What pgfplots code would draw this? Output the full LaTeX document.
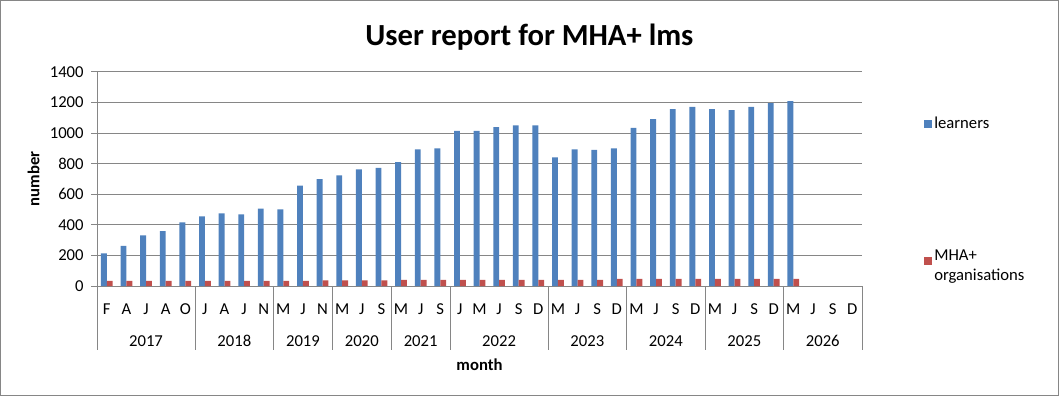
\documentclass[border=0pt]{standalone}
\usepackage{pgfplots}
\pgfplotsset{compat=1.18}
\usepackage{fontspec}
\setmainfont{Carlito}
\definecolor{barblue}{HTML}{4F81BD}
\definecolor{barred}{HTML}{C0504D}
\definecolor{gridgray}{HTML}{868686}
\newcommand{\sz}{\fontsize{12.5}{15}\selectfont}
\begin{document}
\begin{tikzpicture}
\draw[gridgray, line width=0.75pt] (0.375pt,0.375pt) rectangle (793.875pt,296.625pt);
\node[font=\fontsize{23}{27}\selectfont\bfseries, anchor=center] at (397.1pt,269.5pt) {User report for MHA+ lms};
\begin{axis}[
  at={(72.75pt,82.5pt)}, anchor=south west,
  scale only axis, width=573.75pt, height=160.5pt,
  xmin=-0.5, xmax=38.5, ymin=0, ymax=1400,
  clip=false,
  ybar=0pt, bar width=4.4pt,
  axis x line*=bottom, axis y line*=left,
  axis line style={gridgray, line width=0.75pt},
  ytick={0,200,...,1400},
  ymajorgrids, grid style={gridgray, line width=0.75pt},
  ytick style={gridgray, line width=0.75pt},
  tick align=outside, major tick length=4.5pt,
  /pgf/number format/assume math mode=true,
  /pgf/number format/1000 sep={},
  yticklabel style={font=\sz, xshift=-2pt},
  xtick={0,...,38},
  xticklabels={F,A,J,A,O, J,A,J,N, M,J,N, M,J,S, M,J,S, J,M,J,S,D, M,J,S,D, M,J,S,D, M,J,S,D, M,J,S,D},
  x tick style={draw=none},
  xticklabel style={font=\sz, anchor=center, yshift=-13pt},
  xlabel={\bfseries month},
  xlabel style={font=\sz, at={(axis description cs:0.5,0)}, anchor=center, yshift=-59pt},
  ylabel={\bfseries number},
  ylabel style={font=\sz, at={(axis description cs:-0.083,0.5)}, anchor=center},
  legend style={at={(axis description cs:1.075,0.816)}, anchor=north west, draw=none, fill=none,
    font=\sz, row sep=93pt, cells={anchor=west}},
  legend image code/.code={\fill[#1] (0pt,-3pt) rectangle (6pt,3pt);},
]
\addplot[fill=barblue, draw=none] coordinates {
(0,214) (1,262) (2,332) (3,359) (4,416)
(5,455) (6,475) (7,468) (8,507)
(9,501) (10,656) (11,700)
(12,724) (13,763) (14,772)
(15,811) (16,894) (17,901)
(18,1015) (19,1015) (20,1039) (21,1050) (22,1050)
(23,842) (24,894) (25,890) (26,901)
(27,1034) (28,1091) (29,1157) (30,1172)
(31,1157) (32,1150) (33,1172) (34,1196)
(35,1209)
};
\addplot[fill=barred, draw=none] coordinates {
(0,33) (1,33) (2,33) (3,33) (4,33)
(5,33) (6,33) (7,33) (8,33)
(9,33) (10,33) (11,37)
(12,37) (13,37) (14,37)
(15,40) (16,40) (17,40)
(18,40) (19,40) (20,40) (21,40) (22,40)
(23,40) (24,40) (25,40) (26,46)
(27,46) (28,46) (29,46) (30,46)
(31,46) (32,46) (33,46) (34,46)
(35,46)
};
\legend{learners, {\smash{\parbox[t]{3cm}{MHA+\\organisations}}}}
\draw[gridgray, line width=0.75pt] (axis cs:-0.5,0) -- ++(0pt,-48pt);
\draw[gridgray, line width=0.75pt] (axis cs:4.5,0) -- ++(0pt,-48pt);
\draw[gridgray, line width=0.75pt] (axis cs:8.5,0) -- ++(0pt,-48pt);
\draw[gridgray, line width=0.75pt] (axis cs:11.5,0) -- ++(0pt,-48pt);
\draw[gridgray, line width=0.75pt] (axis cs:14.5,0) -- ++(0pt,-48pt);
\draw[gridgray, line width=0.75pt] (axis cs:17.5,0) -- ++(0pt,-48pt);
\draw[gridgray, line width=0.75pt] (axis cs:22.5,0) -- ++(0pt,-48pt);
\draw[gridgray, line width=0.75pt] (axis cs:26.5,0) -- ++(0pt,-48pt);
\draw[gridgray, line width=0.75pt] (axis cs:30.5,0) -- ++(0pt,-48pt);
\draw[gridgray, line width=0.75pt] (axis cs:34.5,0) -- ++(0pt,-48pt);
\draw[gridgray, line width=0.75pt] (axis cs:38.5,0) -- ++(0pt,-48pt);
\node[font=\sz, anchor=center] at (axis cs:2,0) [yshift=-41pt] {2017};
\node[font=\sz, anchor=center] at (axis cs:6.5,0) [yshift=-41pt] {2018};
\node[font=\sz, anchor=center] at (axis cs:10,0) [yshift=-41pt] {2019};
\node[font=\sz, anchor=center] at (axis cs:13,0) [yshift=-41pt] {2020};
\node[font=\sz, anchor=center] at (axis cs:16,0) [yshift=-41pt] {2021};
\node[font=\sz, anchor=center] at (axis cs:20,0) [yshift=-41pt] {2022};
\node[font=\sz, anchor=center] at (axis cs:24.5,0) [yshift=-41pt] {2023};
\node[font=\sz, anchor=center] at (axis cs:28.5,0) [yshift=-41pt] {2024};
\node[font=\sz, anchor=center] at (axis cs:32.5,0) [yshift=-41pt] {2025};
\node[font=\sz, anchor=center] at (axis cs:36.5,0) [yshift=-41pt] {2026};
\end{axis}
\end{tikzpicture}
\end{document}
